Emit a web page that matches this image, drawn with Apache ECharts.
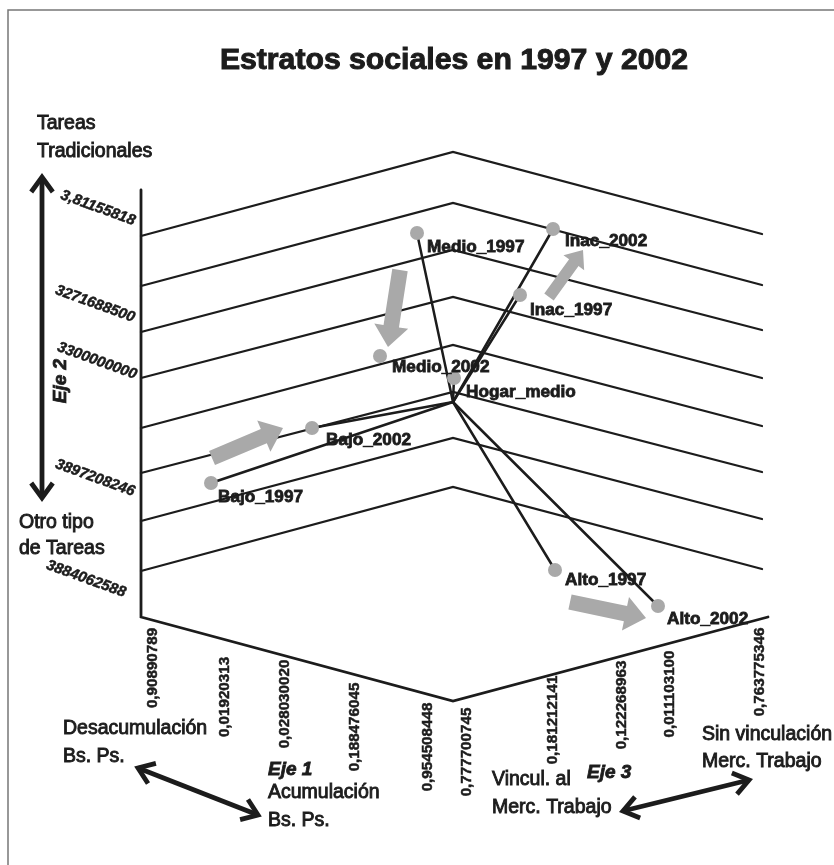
<!DOCTYPE html>
<html>
<head>
<meta charset="utf-8">
<style>html,body{margin:0;padding:0;background:#fff}#c{width:834px;height:865px}</style>
<script src="https://cdn.jsdelivr.net/npm/echarts@6/dist/echarts.min.js"></script>
</head>
<body>
<div id="c"></div>
<script>
// ---- values (projected onto the chart plane) ----
const titleText = 'Estratos sociales en 1997 y 2002';
const wallX = [141, 453, 762];                       // left wall, corner, right end
const planeLeft  = [236, 286, 332, 378, 428, 473, 521, 571];
const planePeak  = [152, 203, 250, 297, 345, 392, 438, 487];
const planeRight = [234, 285, 330, 378, 426, 472, 519, 569];
const axisLine = [[141, 190], [141, 617], [453, 701], [768, 617]];
const frameLine = [[8, 865], [8, 10], [834, 10]];

const center = [453, 402];
const pointNames = ['Medio_1997','Medio_2002','Inac_1997','Inac_2002','Hogar_medio','Bajo_1997','Bajo_2002','Alto_1997','Alto_2002'];
const pointX = [417, 380, 520, 553, 454, 211, 312, 555, 658];
const pointY = [233, 356, 295, 229, 378, 483, 428, 570, 606];
const pointLabelX = [427, 392, 530, 565, 466, 218, 326, 565, 667];
const pointLabelY = [247, 367, 310, 241, 392, 497, 440, 580, 619];
const raysTo = ['Medio_1997','Inac_1997','Inac_2002','Hogar_medio','Bajo_1997','Bajo_2002','Alto_1997','Alto_2002'];

const yTicks = ['3,81155818','3271688500','3300000000','3897208246','3884062588'];
const yTickX = [98, 95, 97, 95, 86];
const yTickY = [208, 304, 361, 478, 579];
const xTicks = ['0,90890789','0,01920313','0,028030020','0,188476045','0,954508448','0,777700745','0,181212141','0,122268963','0,011103100','0,763775346'];
const xTickX = [153, 225, 285, 355, 428, 467, 553, 622, 670, 760];
const xTickY = [668, 697, 704, 727, 747, 752, 720, 705, 694, 672];

const noteText = ['Tareas','Tradicionales','Otro tipo','de Tareas','Desacumulación','Bs. Ps.','Acumulación','Bs. Ps.','Vincul. al','Merc. Trabajo','Sin vinculación','Merc. Trabajo'];
const noteX = [37, 37, 19, 19, 63, 63, 268, 268, 492, 492, 702, 702];
const noteY = [124, 152, 523, 549, 729, 757, 793, 821, 780, 808, 735, 762];
const axisNames = ['Eje 1', 'Eje 3'];
const axisNameX = [268, 587];
const axisNameY = [770, 773];
const axis2Name = 'Eje 2';
const axis2Pos = [61, 381];

const moveArrows = [[212, 458, 283, 428], [400, 270, 388, 347], [549, 297, 583, 250], [570, 602, 646, 618]];
const axisArrows = [[42, 177, 42, 498], [138, 768, 258, 815], [623, 811, 749, 780]];

// ---- styling ----
const INK = '#1c1c1c', GREY = '#a9a9a9';
const lineStyle = (w, c) => ({ width: w, color: c || INK, cap: 'round', join: 'miter' });

function textSeries(rows, font, boldness, rotation, align) {
  return {
    type: 'custom', coordinateSystem: 'cartesian2d', silent: true, z: 6, clip: false,
    data: rows,
    encode: { x: 0, y: 1 },
    renderItem(p, api) {
      const r = rows[p.dataIndex];
      const c = api.coord([r[0], r[1]]);
      return {
        type: 'text', x: c[0], y: c[1], rotation: rotation,
        style: { text: r[2], font, fill: INK, stroke: INK, lineWidth: boldness, align, verticalAlign: 'middle' }
      };
    }
  };
}

function arrowPolygon(a, api) {
  const p0 = api.coord([a[0], a[1]]), p1 = api.coord([a[2], a[3]]);
  const dx = p1[0]-p0[0], dy = p1[1]-p0[1], L = Math.hypot(dx, dy);
  const ux = dx/L, uy = dy/L, nx = -uy, ny = ux;
  const sw = L*0.1, hw = L*0.22, hl = L*0.27;
  const bx = p1[0]-ux*hl, by = p1[1]-uy*hl;
  return [
    [p0[0]+nx*sw, p0[1]+ny*sw], [bx+nx*sw, by+ny*sw], [bx+nx*hw, by+ny*hw], p1,
    [bx-nx*hw, by-ny*hw], [bx-nx*sw, by-ny*sw], [p0[0]-nx*sw, p0[1]-ny*sw]
  ];
}

function chevron(tip, back, size) {
  const dx = back[0]-tip[0], dy = back[1]-tip[1], L = Math.hypot(dx, dy);
  const ux = dx/L, uy = dy/L, nx = -uy, ny = ux;
  return [[tip[0]+ux*size+nx*size*0.72, tip[1]+uy*size+ny*size*0.72], tip, [tip[0]+ux*size-nx*size*0.72, tip[1]+uy*size-ny*size*0.72]];
}

const series = [];
// frame
series.push({ type: 'line', data: frameLine, symbol: 'none', silent: true, clip: false, lineStyle: lineStyle(1.5, '#777'), z: 1 });
// plane lines
planeLeft.forEach((v, i) => series.push({
  type: 'line', data: [[wallX[0], v], [wallX[1], planePeak[i]], [wallX[2], planeRight[i]]],
  symbol: 'none', silent: true, lineStyle: lineStyle(2.3), z: 2
}));
// axes outline
series.push({ type: 'line', data: axisLine, symbol: 'none', silent: true, lineStyle: lineStyle(2.8), z: 2 });
// rays from the centre to each point
raysTo.forEach(n => {
  const i = pointNames.indexOf(n);
  series.push({
    type: 'line', data: [center, [pointX[i], pointY[i]]],
    symbol: 'none', silent: true, lineStyle: lineStyle(2.5), z: 3
  });
});
// grey movement arrows
series.push({
  type: 'custom', silent: true, z: 4, data: moveArrows, encode: { x: 0, y: 1 },
  renderItem(p, api) {
    return { type: 'polygon', shape: { points: arrowPolygon(moveArrows[p.dataIndex], api) }, style: { fill: GREY } };
  }
});
// black double-headed axis arrows
series.push({
  type: 'custom', silent: true, z: 4, data: axisArrows, encode: { x: 0, y: 1 },
  renderItem(p, api) {
    const a = axisArrows[p.dataIndex];
    const s = api.coord([a[0], a[1]]), e = api.coord([a[2], a[3]]);
    const st = { stroke: INK, lineWidth: 4.8, fill: null, lineJoin: 'miter' };
    return { type: 'group', children: [
      { type: 'line', shape: { x1: s[0], y1: s[1], x2: e[0], y2: e[1] }, style: st },
      { type: 'polyline', shape: { points: chevron(s, e, 15) }, style: st },
      { type: 'polyline', shape: { points: chevron(e, s, 15) }, style: st }
    ]};
  }
});
// points
series.push({
  type: 'scatter', name: 'Estratos', symbolSize: 14, z: 5, silent: true,
  itemStyle: { color: GREY, opacity: 1 },
  data: pointNames.map((n, i) => ({ name: n, value: [pointX[i], pointY[i]] }))
});
// texts
series.push(textSeries(pointNames.map((n, i) => [pointLabelX[i], pointLabelY[i], n]), 'bold 17.2px "Liberation Sans"', 0.8, 0, 'left'));
series.push(textSeries(yTicks.map((n, i) => [yTickX[i], yTickY[i], n]), 'italic bold 15px "Liberation Sans"', 0.5, -20 * Math.PI / 180, 'center'));
series.push(textSeries(xTicks.map((n, i) => [xTickX[i], xTickY[i], n]), 'bold 15.2px "Liberation Sans"', 0.5, Math.PI / 2, 'center'));
series.push(textSeries(noteText.map((n, i) => [noteX[i], noteY[i], n]), '19.5px "Liberation Sans"', 0.9, 0, 'left'));
series.push(textSeries(axisNames.map((n, i) => [axisNameX[i], axisNameY[i], n]), 'italic bold 19px "Liberation Sans"', 0.8, 0, 'left'));
series.push(textSeries([[axis2Pos[0], axis2Pos[1], axis2Name]], 'italic bold 19px "Liberation Sans"', 0.8, Math.PI / 2, 'center'));

const chart = echarts.init(document.getElementById('c'), null, { renderer: 'canvas' });
chart.setOption({
  animation: false,
  backgroundColor: '#fff',
  title: {
    text: titleText, left: 449, textAlign: 'center', top: 41,
    textStyle: { fontFamily: 'Liberation Sans', fontWeight: 'bold', fontSize: 30.2, color: INK, textBorderColor: INK, textBorderWidth: 1 }
  },
  grid: { left: 0, right: 0, top: 0, bottom: 0 },
  xAxis: { type: 'value', min: 0, max: 834, show: false },
  yAxis: { type: 'value', min: 0, max: 865, inverse: true, show: false },
  series
});
</script>
</body>
</html>
